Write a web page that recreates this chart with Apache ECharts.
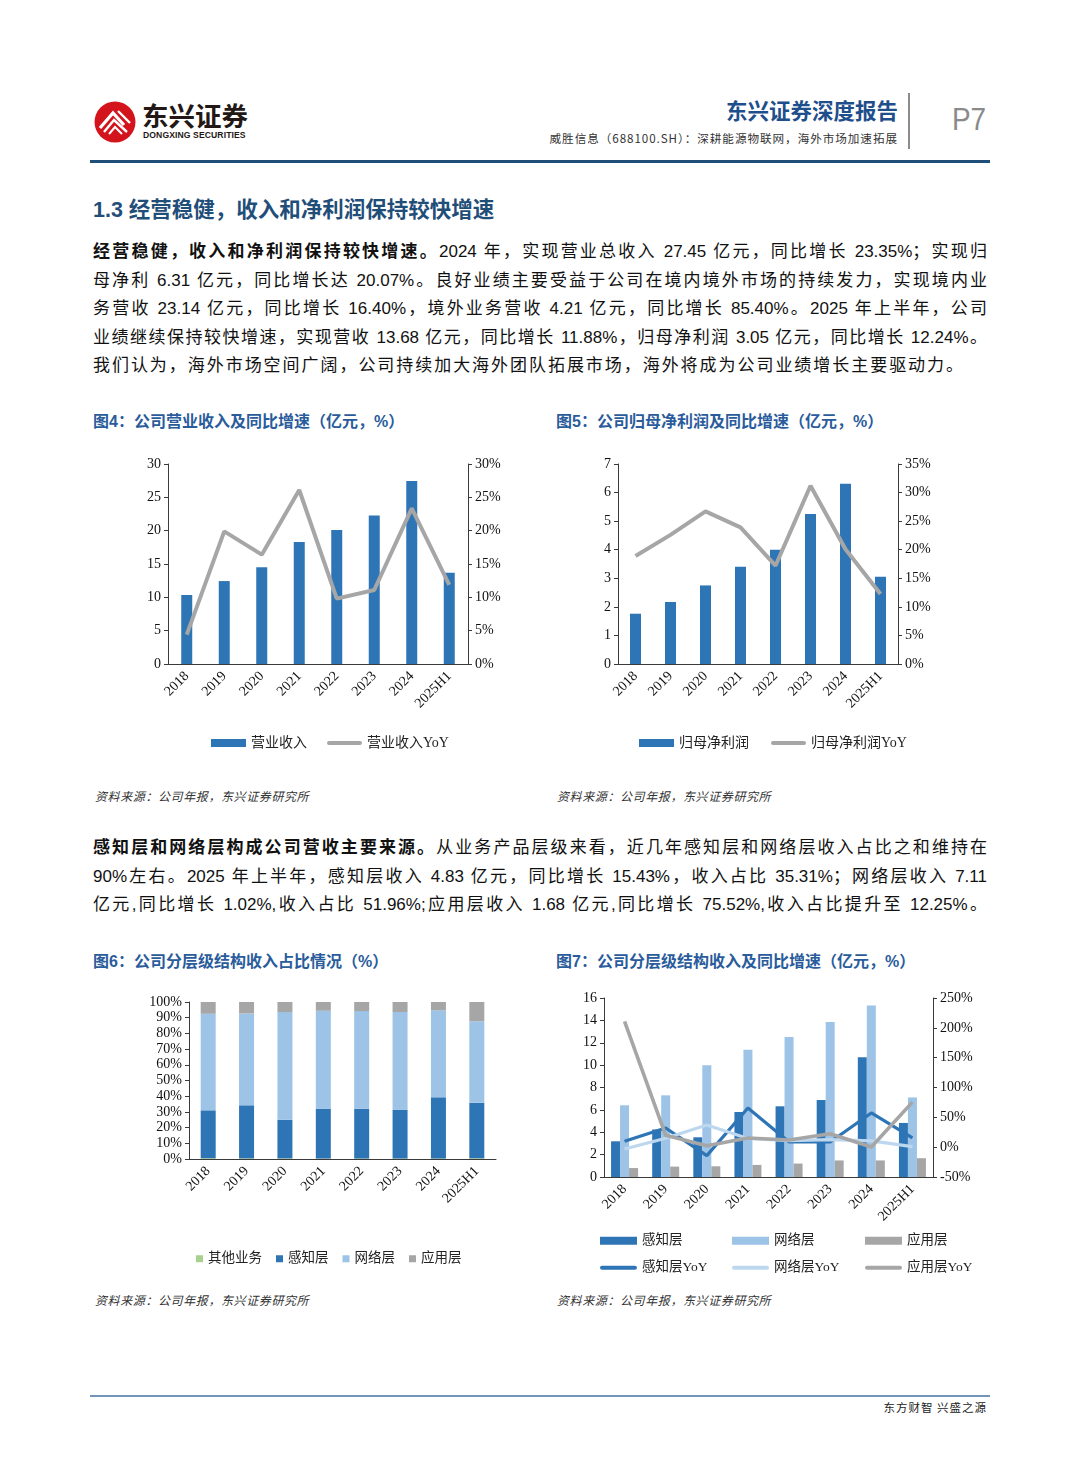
<!DOCTYPE html>
<html>
<head>
<meta charset="utf-8">
<script src="https://cdn.jsdelivr.net/npm/echarts@6/dist/echarts.min.js"></script>
<style>
  html,body{margin:0;padding:0;background:#fff;}
  #page{position:relative;width:1080px;height:1466px;overflow:hidden;font-family:"Liberation Sans","Noto Sans CJK SC",sans-serif;color:#111;}
  .abs{position:absolute;}
  .line{position:absolute;left:93px;width:894px;font-size:17px;line-height:28.5px;height:28.5px;text-align:justify;text-align-last:justify;color:#111;}
  .figt{position:absolute;font-size:16px;font-weight:bold;color:#2A5C9C;line-height:20px;}
  .src{position:absolute;font-size:12px;font-style:italic;letter-spacing:0.6px;color:#333;line-height:16px;}
  .chart{position:absolute;}
</style>
</head>
<body>
<div id="page">
  <!-- header -->
  <svg class="abs" style="left:94px;top:101px" width="42" height="42" viewBox="0 0 42 42">
    <circle cx="21" cy="21" r="20.5" fill="#D3141D"/>
    <path d="M6 27 L19 12 L30 24" stroke="#fff" stroke-width="3.2" fill="none"/>
    <path d="M10 31 L20 19 L33 31" stroke="#fff" stroke-width="2.4" fill="none"/>
    <path d="M15 33 L21 26 L28 33" stroke="#fff" stroke-width="2" fill="none"/>
    <path d="M24 10 L36 22" stroke="#fff" stroke-width="2.4" fill="none"/>
  </svg>
  <div class="abs" style="left:142px;top:100px;font-size:26.5px;font-weight:bold;color:#231815;font-family:'Noto Sans CJK SC';line-height:30px;letter-spacing:0px;">东兴证券</div>
  <div class="abs" style="left:143px;top:130px;font-size:8.6px;font-weight:bold;color:#231815;font-family:'Liberation Sans';line-height:10px;letter-spacing:0.1px;">DONGXING SECURITIES</div>
  <div class="abs" style="left:600px;width:298px;top:96px;font-size:21.5px;font-weight:bold;color:#1E4E8C;text-align:right;line-height:28px;font-family:'Noto Sans CJK SC';">东兴证券深度报告</div>
  <div class="abs" style="left:500px;width:398px;top:130px;font-size:11.6px;color:#333;text-align:right;line-height:16px;letter-spacing:0.95px;font-family:'Noto Sans CJK SC';">威胜信息（688100.SH）：深耕能源物联网，海外市场加速拓展</div>
  <div class="abs" style="left:908px;top:93px;width:2px;height:56px;background:#8c8c8c;"></div>
  <div class="abs" style="left:952px;top:102px;font-size:31px;color:#8a8a8a;line-height:36px;font-family:'Liberation Sans';transform:scaleX(0.9);transform-origin:left;">P7</div>
  <div class="abs" style="left:90px;top:160px;width:900px;height:3px;background:#1F4E79;"></div>

  <!-- section heading -->
  <div class="abs" style="left:93px;top:196px;font-size:21.5px;font-weight:bold;color:#1F4E79;line-height:28px;">1.3 经营稳健，收入和净利润保持较快增速</div>

  <!-- paragraph 1 -->
  <div class="line" style="top:238px;"><b>经营稳健，收入和净利润保持较快增速。</b>2024 年，实现营业总收入 27.45 亿元，同比增长 23.35%；实现归</div>
  <div class="line" style="top:266.5px;">母净利 6.31 亿元，同比增长达 20.07%。良好业绩主要受益于公司在境内境外市场的持续发力，实现境内业</div>
  <div class="line" style="top:295px;">务营收 23.14 亿元，同比增长 16.40%，境外业务营收 4.21 亿元，同比增长 85.40%。2025 年上半年，公司</div>
  <div class="line" style="top:323.5px;">业绩继续保持较快增速，实现营收 13.68 亿元，同比增长 11.88%，归母净利润 3.05 亿元，同比增长 12.24%。</div>
  <div class="line" style="top:352px;width:870px;">我们认为，海外市场空间广阔，公司持续加大海外团队拓展市场，海外将成为公司业绩增长主要驱动力。</div>

  <div class="figt" style="left:93px;top:412px;">图4：公司营业收入及同比增速（亿元，%）</div>
  <div class="figt" style="left:556px;top:412px;">图5：公司归母净利润及同比增速（亿元，%）</div>

  <div id="c4" class="chart" style="left:90px;top:440px;width:450px;height:330px;"></div>
  <div id="c5" class="chart" style="left:550px;top:440px;width:450px;height:330px;"></div>

  <div class="src" style="left:95px;top:789px;">资料来源：公司年报，东兴证券研究所</div>
  <div class="src" style="left:557px;top:789px;">资料来源：公司年报，东兴证券研究所</div>

  <!-- paragraph 2 -->
  <div class="line" style="top:834px;"><b>感知层和网络层构成公司营收主要来源。</b>从业务产品层级来看，近几年感知层和网络层收入占比之和维持在</div>
  <div class="line" style="top:862.5px;">90%左右。2025 年上半年，感知层收入 4.83 亿元，同比增长 15.43%，收入占比 35.31%；网络层收入 7.11</div>
  <div class="line" style="top:891px;">亿元,同比增长 1.02%,收入占比 51.96%;应用层收入 1.68 亿元,同比增长 75.52%,收入占比提升至 12.25%。</div>

  <div class="figt" style="left:93px;top:952px;">图6：公司分层级结构收入占比情况（%）</div>
  <div class="figt" style="left:556px;top:952px;">图7：公司分层级结构收入及同比增速（亿元，%）</div>

  <div id="c6" class="chart" style="left:90px;top:980px;width:450px;height:310px;"></div>
  <div id="c7" class="chart" style="left:550px;top:980px;width:450px;height:310px;"></div>

  <div class="src" style="left:95px;top:1293px;">资料来源：公司年报，东兴证券研究所</div>
  <div class="src" style="left:557px;top:1293px;">资料来源：公司年报，东兴证券研究所</div>

  <!-- footer -->
  <div class="abs" style="left:90px;top:1395px;width:900px;height:2px;background:#7395B8;"></div>
  <div class="abs" style="left:700px;width:287px;top:1399px;font-size:11.5px;color:#222;text-align:right;letter-spacing:1px;line-height:16px;font-family:'Noto Sans CJK SC';">东方财智 兴盛之源</div>
</div>

<script>
// ---------- data ----------
const years = ['2018','2019','2020','2021','2022','2023','2024','2025H1'];

// Fig 4: revenue (亿元) and YoY (%)
const revenue    = [10.35, 12.44, 14.53, 18.31, 20.10, 22.29, 27.45, 13.68];
const revenueYoY = [4.4, 19.9, 16.4, 26.1, 9.8, 11.1, 23.35, 11.88];

// Fig 5: net profit attributable to parent (亿元) and YoY (%)
const netProfit    = [1.76, 2.17, 2.75, 3.40, 4.00, 5.25, 6.31, 3.05];
const netProfitYoY = [18.9, 22.6, 26.7, 23.9, 17.2, 31.2, 20.07, 12.24];

// Fig 6: revenue share by layer (%)
const shareOther   = [0.5, 0.4, 0.4, 0.3, 0.3, 0.3, 0.3, 0.48];
const shareSensing = [30.5, 33.8, 24.6, 31.8, 31.7, 31.1, 39.0, 35.31];
const shareNetwork = [61.5, 58.5, 68.6, 62.3, 62.2, 62.2, 55.4, 51.96];
const shareApp     = [7.5, 7.3, 6.4, 5.6, 5.8, 6.4, 5.3, 12.25];

// Fig 7: revenue by layer (亿元) and YoY (%)
const sensingRev = [3.19, 4.25, 3.55, 5.81, 6.32, 6.88, 10.70, 4.83];
const networkRev = [6.41, 7.30, 9.98, 11.38, 12.51, 13.86, 15.32, 7.11];
const appRev     = [0.80, 0.93, 0.96, 1.08, 1.20, 1.48, 1.48, 1.68];
const sensingYoY = [9.8, 32.1, -14.2, 65.6, 8.7, 8.7, 57.3, 15.43];
const networkYoY = [-3.0, 15.0, 37.0, 14.5, 11.0, 12.5, 10.5, 1.02];
const appYoY     = [210.9, 19.8, 2.5, 15.4, 12.0, 22.6, 0.3, 75.52];

// ---------- styles ----------
const C_DARK = '#2E75B6', C_LIGHT = '#9DC3E6', C_GRAY = '#A6A6A6', C_GREEN = '#A9D18E', C_PALE = '#BDD7EE';
const serif = 'Liberation Serif, Noto Sans CJK SC, serif';
const axisLine = {show:true, lineStyle:{color:'#3a3a3a', width:1}};
const lbl = {color:'#111', fontFamily:serif, fontSize:14};
const LINE_ICON = 'path://M2,0 L33,0 A2,2 0 0 1 33,4 L2,4 A2,2 0 0 1 2,0 Z';

function xCat(){
  return {type:'category', data:years, axisTick:{show:false},
    axisLine:{show:true, onZero:false, lineStyle:{color:'#3a3a3a', width:1}},
    axisLabel:Object.assign({rotate:45, margin:10, interval:0}, lbl)};
}
function yVal(min, max, interval, pct, pos){
  return {type:'value', min:min, max:max, interval:interval, position:pos,
    splitLine:{show:false}, axisLine:axisLine,
    axisTick:{show:true, length:4, lineStyle:{color:'#3a3a3a'}},
    axisLabel:Object.assign({margin:7, formatter: pct ? '{value}%' : '{value}'}, lbl)};
}
const legendText = {fontFamily:serif, fontSize:14, color:'#222'};

// ---------- Fig 4 ----------
echarts.init(document.getElementById('c4')).setOption({
  animation:false,
  grid:{left:78, right:72, top:24, bottom:106},
  legend:{left:116, top:291, itemWidth:35, itemHeight:8, itemGap:20, textStyle:legendText,
    data:[{name:'营业收入', icon:'rect'}, {name:'营业收入YoY', icon:LINE_ICON}]},
  xAxis:xCat(),
  yAxis:[yVal(0,30,5,false,'left'), yVal(0,30,5,true,'right')],
  series:[
    {name:'营业收入', type:'bar', data:revenue, barWidth:11, itemStyle:{color:C_DARK}},
    {name:'营业收入YoY', type:'line', yAxisIndex:1, data:revenueYoY, symbol:'none',
     lineStyle:{color:C_GRAY, width:4}, itemStyle:{color:C_GRAY}}
  ]
});

// ---------- Fig 5 ----------
echarts.init(document.getElementById('c5')).setOption({
  animation:false,
  grid:{left:68, right:102, top:24, bottom:106},
  legend:{left:84, top:291, itemWidth:35, itemHeight:8, itemGap:22, textStyle:legendText,
    data:[{name:'归母净利润', icon:'rect'}, {name:'归母净利润YoY', icon:LINE_ICON}]},
  xAxis:xCat(),
  yAxis:[yVal(0,7,1,false,'left'), yVal(0,35,5,true,'right')],
  series:[
    {name:'归母净利润', type:'bar', data:netProfit, barWidth:11, itemStyle:{color:C_DARK}},
    {name:'归母净利润YoY', type:'line', yAxisIndex:1, data:netProfitYoY, symbol:'none',
     lineStyle:{color:C_GRAY, width:4}, itemStyle:{color:C_GRAY}}
  ]
});

// ---------- Fig 6 ----------
echarts.init(document.getElementById('c6')).setOption({
  animation:false,
  grid:{left:99, right:44, top:22, bottom:131},
  legend:{left:101, top:267, itemWidth:7, itemHeight:7, itemGap:14, icon:'rect',
    textStyle:Object.assign({}, legendText, {fontSize:13.5}),
    data:['其他业务','感知层','网络层','应用层']},
  xAxis:xCat(),
  yAxis:yVal(0,100,10,true,'left'),
  series:[
    {name:'其他业务', type:'bar', stack:'s', data:shareOther, barWidth:15, itemStyle:{color:C_GREEN}},
    {name:'感知层', type:'bar', stack:'s', data:shareSensing, barWidth:15, itemStyle:{color:C_DARK}},
    {name:'网络层', type:'bar', stack:'s', data:shareNetwork, barWidth:15, itemStyle:{color:C_LIGHT}},
    {name:'应用层', type:'bar', stack:'s', data:shareApp, barWidth:15, itemStyle:{color:C_GRAY}}
  ]
});

// ---------- Fig 7 ----------
function lg(name, left, top){
  return {left:left, top:top, itemWidth:37, itemHeight:8, itemGap:0,
    textStyle:Object.assign({}, legendText, {fontSize:13.5}),
    data:[name.indexOf('YoY')>=0 ? {name:name, icon:LINE_ICON} : {name:name, icon:'rect'}]};
}
echarts.init(document.getElementById('c7')).setOption({
  animation:false,
  grid:{left:54, right:67, top:18, bottom:113},
  legend:[
    lg('感知层',45,249), lg('网络层',177,249), lg('应用层',310,249),
    lg('感知层YoY',45,276), lg('网络层YoY',177,276), lg('应用层YoY',310,276)
  ],
  xAxis:xCat(),
  yAxis:[yVal(0,16,2,false,'left'), yVal(-50,250,50,true,'right')],
  series:[
    {name:'感知层', type:'bar', data:sensingRev, barWidth:9, barGap:'0%', itemStyle:{color:C_DARK}},
    {name:'网络层', type:'bar', data:networkRev, barWidth:9, barGap:'0%', itemStyle:{color:C_LIGHT}},
    {name:'应用层', type:'bar', data:appRev, barWidth:9, barGap:'0%', itemStyle:{color:C_GRAY}},
    {name:'感知层YoY', type:'line', yAxisIndex:1, data:sensingYoY, symbol:'none',
     lineStyle:{color:C_DARK, width:3.2}, itemStyle:{color:C_DARK}},
    {name:'网络层YoY', type:'line', yAxisIndex:1, data:networkYoY, symbol:'none',
     lineStyle:{color:C_PALE, width:3.2}, itemStyle:{color:C_PALE}},
    {name:'应用层YoY', type:'line', yAxisIndex:1, data:appYoY, symbol:'none',
     lineStyle:{color:C_GRAY, width:3.6}, itemStyle:{color:C_GRAY}}
  ]
});
</script>
</body>
</html>
